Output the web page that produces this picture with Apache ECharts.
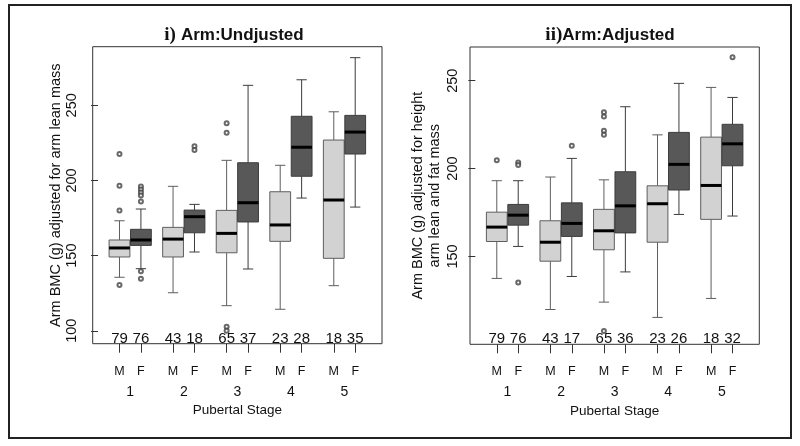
<!DOCTYPE html>
<html>
<head>
<meta charset="utf-8">
<script src="https://cdn.jsdelivr.net/npm/echarts@6/dist/echarts.min.js"></script>
<style>
html,body{margin:0;padding:0;background:#fff;}
#chart{width:800px;height:446px;}
</style>
</head>
<body>
<div id="chart"></div>
<script>
// ---- data ----
const positions = [1, 2, 3.5, 4.5, 6, 7, 8.5, 9.5, 11, 12];
const sexLabels = ['M', 'F', 'M', 'F', 'M', 'F', 'M', 'F', 'M', 'F'];
const stagePositions = [1.5, 4, 6.5, 9, 11.5];
const stageLabels = ['1', '2', '3', '4', '5'];

// i) Arm: Undjusted
const unadjLow  = [135.6, 141.3, 125.3, 152.4, 116.7, 141.1, 114.3, 188.3, 130.0, 182.3];
const unadjQ1   = [149.1, 156.8, 149.1, 165.2, 151.9, 172.4, 159.5, 202.8, 148.2, 217.6];
const unadjMed  = [155.1, 160.4, 161.0, 175.9, 164.8, 185.2, 170.4, 222.1, 187.0, 232.2];
const unadjQ3   = [160.4, 167.5, 168.8, 180.3, 180.1, 211.8, 192.5, 242.7, 226.9, 243.3];
const unadjHigh = [173.2, 181.0, 196.1, 184.1, 213.4, 263.3, 210.1, 267.0, 245.7, 281.7];
const unadjN    = [79, 76, 43, 18, 65, 37, 23, 28, 18, 35];
const unadjOutGroup = [0, 0, 0, 0, 1, 1, 1, 1, 1, 1, 1, 3, 3, 4, 4, 4, 4];
const unadjOutValue = [217.6, 196.5, 180.1, 130.4, 196, 194, 192, 190, 186, 139.6, 134.6, 222.7, 220.3, 238, 231.8, 102.7, 100];

// ii) Arm: Adjusted
const adjLow  = [137.5, 155.7, 119.8, 138.6, 124.0, 141.2, 115.3, 173.9, 126.1, 173.0];
const adjQ1   = [158.5, 167.8, 147.3, 161.4, 153.8, 163.4, 158.1, 187.8, 171.1, 201.6];
const adjMed  = [166.7, 173.5, 158.1, 168.8, 164.6, 178.8, 180.0, 202.4, 190.4, 214.1];
const adjQ3   = [175.2, 179.6, 170.3, 180.5, 176.8, 198.2, 190.2, 220.6, 217.9, 225.2];
const adjHigh = [193.1, 193.1, 195.2, 205.8, 193.6, 235.2, 219.2, 248.5, 246.2, 240.5];
const adjN    = [79, 76, 43, 17, 65, 36, 23, 26, 18, 32];
const adjOutGroup = [0, 1, 1, 1, 3, 4, 4, 4, 4, 4, 9];
const adjOutValue = [204.8, 203.5, 202, 135.2, 213, 232, 229.7, 221.5, 219.2, 107.5, 263.3];

const leftTicks = [100, 150, 200, 250];
const rightTicks = [150, 200, 250];

// ---- styling ----
const FONT = '"Liberation Sans", Arial, sans-serif';
const M_FILL = '#d2d2d2', F_FILL = '#585858';
const M_LINE = '#5e5e5e', F_LINE = '#3c3c3c';

function boxData(low, q1, med, q3, high) {
  return positions.map((p, i) => [p, low[i], q1[i], med[i], q3[i], high[i], i % 2]);
}
function outData(g, v) { return g.map((gi, i) => [positions[gi], v[i]]); }
function nData(n) { return positions.map((p, i) => [p, n[i]]); }

function renderBox(params, api) {
  const x = api.value(0);
  const lo = api.value(1), q1 = api.value(2), med = api.value(3), q3 = api.value(4), hi = api.value(5);
  const isF = api.value(6) === 1;
  const hw = 0.485, cw = 0.24;
  const lineCol = isF ? F_LINE : M_LINE;
  const fill = isF ? F_FILL : M_FILL;
  const c = (a, b) => api.coord([a, b]);
  const pTop = c(x, hi), pQ3 = c(x, q3), pQ1 = c(x, q1), pLo = c(x, lo);
  const capL = c(x - cw, 0)[0], capR = c(x + cw, 0)[0];
  const bL = c(x - hw, 0)[0], bR = c(x + hw, 0)[0];
  const yMed = c(x, med)[1];
  const ls = { stroke: lineCol, lineWidth: 1 };
  return {
    type: 'group',
    children: [
      { type: 'line', shape: { x1: pTop[0], y1: pTop[1], x2: pQ3[0], y2: pQ3[1] }, style: ls },
      { type: 'line', shape: { x1: pLo[0], y1: pLo[1], x2: pQ1[0], y2: pQ1[1] }, style: ls },
      { type: 'line', shape: { x1: capL, y1: pTop[1], x2: capR, y2: pTop[1] }, style: ls },
      { type: 'line', shape: { x1: capL, y1: pLo[1], x2: capR, y2: pLo[1] }, style: ls },
      { type: 'rect', shape: { x: bL, y: pQ3[1], width: bR - bL, height: pQ1[1] - pQ3[1] },
        style: { fill: fill, stroke: lineCol, lineWidth: 1 } },
      { type: 'line', shape: { x1: bL, y1: yMed, x2: bR, y2: yMed }, style: { stroke: '#000', lineWidth: 3 } }
    ]
  };
}

function renderN(params, api) {
  const yBottom = params.coordSys.y + params.coordSys.height;
  return {
    type: 'text',
    style: {
      text: String(api.value(1)), x: api.coord([api.value(0), 200])[0], y: yBottom - 5,
      textAlign: 'center', textVerticalAlign: 'middle',
      font: '15px ' + FONT, fill: '#111'
    }
  };
}

function xAxes(gridIndex) {
  return [
    {
      gridIndex: gridIndex, type: 'value', min: -0.25, max: 13.25, position: 'bottom',
      axisLine: { show: false }, splitLine: { show: false },
      axisTick: { show: true, customValues: positions, length: 9, lineStyle: { color: '#333' } },
      axisLabel: {
        customValues: positions, margin: 21, fontSize: 12.5, fontFamily: FONT, color: '#111',
        formatter: v => sexLabels[positions.indexOf(v)]
      }
    },
    {
      gridIndex: gridIndex, type: 'value', min: -0.25, max: 13.25, position: 'bottom',
      axisLine: { show: false }, splitLine: { show: false }, axisTick: { show: false },
      axisLabel: {
        customValues: stagePositions, margin: 41, fontSize: 14, fontFamily: FONT, color: '#111',
        formatter: v => stageLabels[stagePositions.indexOf(v)]
      },
      name: 'Pubertal Stage', nameLocation: 'middle', nameGap: 58,
      nameTextStyle: { fontSize: 13.5, fontFamily: FONT, color: '#111' }
    }
  ];
}

const chart = echarts.init(document.getElementById('chart'), null, { renderer: 'canvas' });

const option = {
  animation: false,
  backgroundColor: '#fff',
  title: [
    {
      text: '{s|i)} {b|Arm:Undjusted}', left: 229, top: 21, textAlign: 'center',
      textStyle: { rich: {
        s: { fontFamily: '"Liberation Serif", serif', fontWeight: 'bold', fontSize: 19, color: '#111' },
        b: { fontFamily: FONT, fontWeight: 'bold', fontSize: 17, color: '#111' }
      } }
    },
    {
      text: '{s|ii)}{b|Arm:Adjusted}', left: 605, top: 21, textAlign: 'center',
      textStyle: { rich: {
        s: { fontFamily: '"Liberation Serif", serif', fontWeight: 'bold', fontSize: 19, color: '#111' },
        b: { fontFamily: FONT, fontWeight: 'bold', fontSize: 17, color: '#111' }
      } }
    }
  ],
  graphic: [
    { type: 'rect', shape: { x: 9, y: 5, width: 782, height: 433 }, style: { fill: 'none', stroke: '#222', lineWidth: 2 }, silent: true }
  ],
  grid: [
    { left: 92.7, top: 46.7, width: 289.3, height: 297, show: true, borderColor: '#333', borderWidth: 1, backgroundColor: 'transparent' },
    { left: 470, top: 47, width: 289.3, height: 297.3, show: true, borderColor: '#333', borderWidth: 1, backgroundColor: 'transparent' }
  ],
  xAxis: [...xAxes(0), ...xAxes(1)],
  yAxis: [
    {
      gridIndex: 0, type: 'value', min: 91.4, max: 289,
      axisLine: { show: false }, splitLine: { show: false },
      axisTick: { show: true, customValues: leftTicks, length: 7, lineStyle: { color: '#333' } },
      axisLabel: { customValues: leftTicks, rotate: 90, margin: 13, fontSize: 14.5, fontFamily: FONT, color: '#111' },
      name: 'Arm BMC (g) adjusted for arm lean mass', nameLocation: 'middle', nameGap: 29, nameRotate: 90,
      nameTextStyle: { fontSize: 14.5, fontFamily: FONT, color: '#111' }
    },
    {
      gridIndex: 1, type: 'value', min: 100, max: 269.2,
      axisLine: { show: false }, splitLine: { show: false },
      axisTick: { show: true, customValues: rightTicks, length: 7, lineStyle: { color: '#333' } },
      axisLabel: { customValues: rightTicks, rotate: 90, margin: 10, fontSize: 14.5, fontFamily: FONT, color: '#111' },
      name: 'Arm BMC (g) adjusted for height\narm lean and fat mass', nameLocation: 'middle', nameGap: 27, nameRotate: 90,
      nameTextStyle: { fontSize: 14.5, lineHeight: 17, fontFamily: FONT, color: '#111', align: 'center' }
    }
  ],
  series: [
    { type: 'custom', xAxisIndex: 0, yAxisIndex: 0, renderItem: renderBox, data: boxData(unadjLow, unadjQ1, unadjMed, unadjQ3, unadjHigh), clip: false },
    { type: 'scatter', xAxisIndex: 0, yAxisIndex: 0, symbol: 'emptyCircle', symbolSize: 4,
      itemStyle: { color: '#444', borderWidth: 0.8 }, data: outData(unadjOutGroup, unadjOutValue) },
    { type: 'custom', xAxisIndex: 0, yAxisIndex: 0, renderItem: renderN, data: nData(unadjN) },
    { type: 'custom', xAxisIndex: 2, yAxisIndex: 1, renderItem: renderBox, data: boxData(adjLow, adjQ1, adjMed, adjQ3, adjHigh), clip: false },
    { type: 'scatter', xAxisIndex: 2, yAxisIndex: 1, symbol: 'emptyCircle', symbolSize: 4,
      itemStyle: { color: '#444', borderWidth: 0.8 }, data: outData(adjOutGroup, adjOutValue) },
    { type: 'custom', xAxisIndex: 2, yAxisIndex: 1, renderItem: renderN, data: nData(adjN) }
  ]
};
chart.setOption(option);
</script>
</body>
</html>
